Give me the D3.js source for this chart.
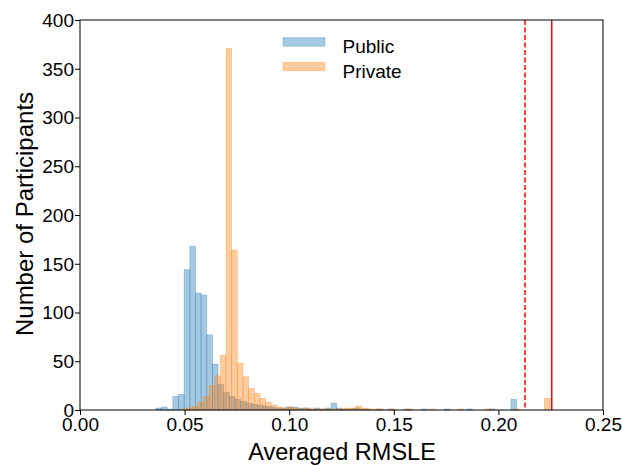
<!DOCTYPE html>
<html>
<head>
<meta charset="utf-8">
<script src="https://cdn.jsdelivr.net/npm/d3@7"></script>
<style>
  body { margin: 0; background: #fff; }
  svg { font-family: "Liberation Sans", Arial, sans-serif; }
</style>
</head>
<body>
<svg id="chart" width="623" height="465"></svg>
<script>
// ---- Data ----
const binWidth = 0.0027;

const publicX0 = [0.0363,0.0390,0.0417,0.0444,0.0471,0.0498,0.0525,0.0552,0.0579,0.0606,
  0.0633,0.0660,0.0687,0.0714,0.0741,0.0768,0.0795,0.0822,0.0849,0.0876,
  0.0903,0.0930,0.0957,0.0984,0.1011,0.1038,0.1065,0.1092,0.1119,0.1146,
  0.1173,0.1200,0.1227,0.1254,0.1281,0.1308,0.1335,0.1362,0.1416,0.1470,
  0.1551,0.1632,0.1740,0.1848,0.1956,0.2060];
const publicCount = [2,3,1,14,16,144,168,120,118,77,
  47,26,18,14,11,9,7,6,5,4,
  3,2,2,3,3,2,2,1,2,1,
  2,7,2,1,1,2,1,1,1,1,
  1,1,1,1,1,11];

const privateX0 = [0.0482,0.0509,0.0536,0.0563,0.0590,0.0617,0.0644,0.0671,0.0698,0.0725,
  0.0752,0.0779,0.0806,0.0833,0.0860,0.0887,0.0914,0.0941,0.0968,0.0995,
  0.1022,0.1049,0.1076,0.1103,0.1130,0.1157,0.1184,0.1211,0.1238,0.1265,
  0.1292,0.1319,0.1346,0.1373,0.1400,0.1427,0.1481,0.1562,0.1670,0.1805,
  0.1940,0.2075,0.2220];
const privateCount = [1,2,4,8,14,25,35,56,371,164,
  48,34,22,17,12,8,5,3,2,3,
  2,1,2,1,1,1,1,1,1,2,
  2,4,2,1,1,1,1,1,1,1,
  1,1,12];

const thresholdDashed = 0.2127;
const thresholdSolid = 0.2255;

const xTicks = [0.00,0.05,0.10,0.15,0.20,0.25];
const yTicks = [0,50,100,150,200,250,300,350,400];
const seriesNames = ["Public","Private"];
const seriesColors = ["#1f77b4","#ff7f0e"];

// ---- Layout ----
const svg = d3.select("#chart");
const L = 80, R = 603, T = 20, B = 410;

const x = d3.scaleLinear().domain([0, 0.25]).range([L, R]);
const y = d3.scaleLinear().domain([0, 400]).range([B, T]);

const series = [
  publicX0.map((d,i)=>({x0:d, n:publicCount[i]})),
  privateX0.map((d,i)=>({x0:d, n:privateCount[i]}))
];

const plot = svg.append("g");
series.forEach((bins, si) => {
  plot.append("g").selectAll("rect").data(bins).join("rect")
    .attr("x", d => x(d.x0))
    .attr("width", d => x(d.x0 + binWidth) - x(d.x0))
    .attr("y", d => y(d.n))
    .attr("height", d => y(0) - y(d.n))
    .attr("fill", seriesColors[si])
    .attr("fill-opacity", 0.4)
    .attr("stroke", seriesColors[si])
    .attr("stroke-opacity", 0.35)
    .attr("stroke-width", 0.8);
});

// threshold lines
plot.append("line")
  .attr("x1", x(thresholdDashed)).attr("x2", x(thresholdDashed))
  .attr("y1", T).attr("y2", B)
  .attr("stroke", "red").attr("stroke-width", 1.5)
  .attr("stroke-dasharray", "5,2.5");
plot.append("line")
  .attr("x1", x(thresholdSolid)).attr("x2", x(thresholdSolid))
  .attr("y1", T).attr("y2", B)
  .attr("stroke", "red").attr("stroke-width", 1.5);

// axes
const xAxis = svg.append("g").attr("transform", `translate(0,${B})`)
  .call(d3.axisBottom(x).tickValues(xTicks).tickFormat(d3.format(".2f")).tickSizeOuter(0).tickSize(5));
const yAxis = svg.append("g").attr("transform", `translate(${L},0)`)
  .call(d3.axisLeft(y).tickValues(yTicks).tickFormat(d3.format("d")).tickSizeOuter(0).tickSize(5));

[xAxis, yAxis].forEach(a => {
  a.select(".domain").remove();
  a.selectAll(".tick line").attr("stroke", "#000").attr("stroke-width", 1);
  a.selectAll(".tick text").attr("fill", "#000").style("font-size", "19px");
});
xAxis.selectAll(".tick text").attr("dy", null).attr("y", 21);
yAxis.selectAll(".tick text").attr("x", -6).attr("dy", "0.34em");

// frame
svg.append("rect").attr("x", L).attr("y", T).attr("width", R - L).attr("height", B - T)
  .attr("fill", "none").attr("stroke", "#000").attr("stroke-width", 1);

// axis labels
svg.append("text").attr("x", 342).attr("y", 460)
  .attr("text-anchor", "middle").style("font-size", "23.5px").text("Averaged RMSLE");
svg.append("text").attr("transform", `translate(33,214) rotate(-90)`)
  .attr("text-anchor", "middle").style("font-size", "24px")
  .text("Number of Participants");

// legend
const leg = svg.append("g");
seriesNames.forEach((name, i) => {
  const ly = 37.7 + i * 24.6;
  leg.append("rect").attr("x", 283).attr("y", ly).attr("width", 42).attr("height", 8.5)
    .attr("fill", seriesColors[i]).attr("fill-opacity", 0.4)
    .attr("stroke", seriesColors[i]).attr("stroke-opacity", 0.35).attr("stroke-width", 0.8);
  leg.append("text").attr("x", 342.5).attr("y", ly + 15.5)
    .style("font-size", "19px").text(name);
});
</script>
</body>
</html>
